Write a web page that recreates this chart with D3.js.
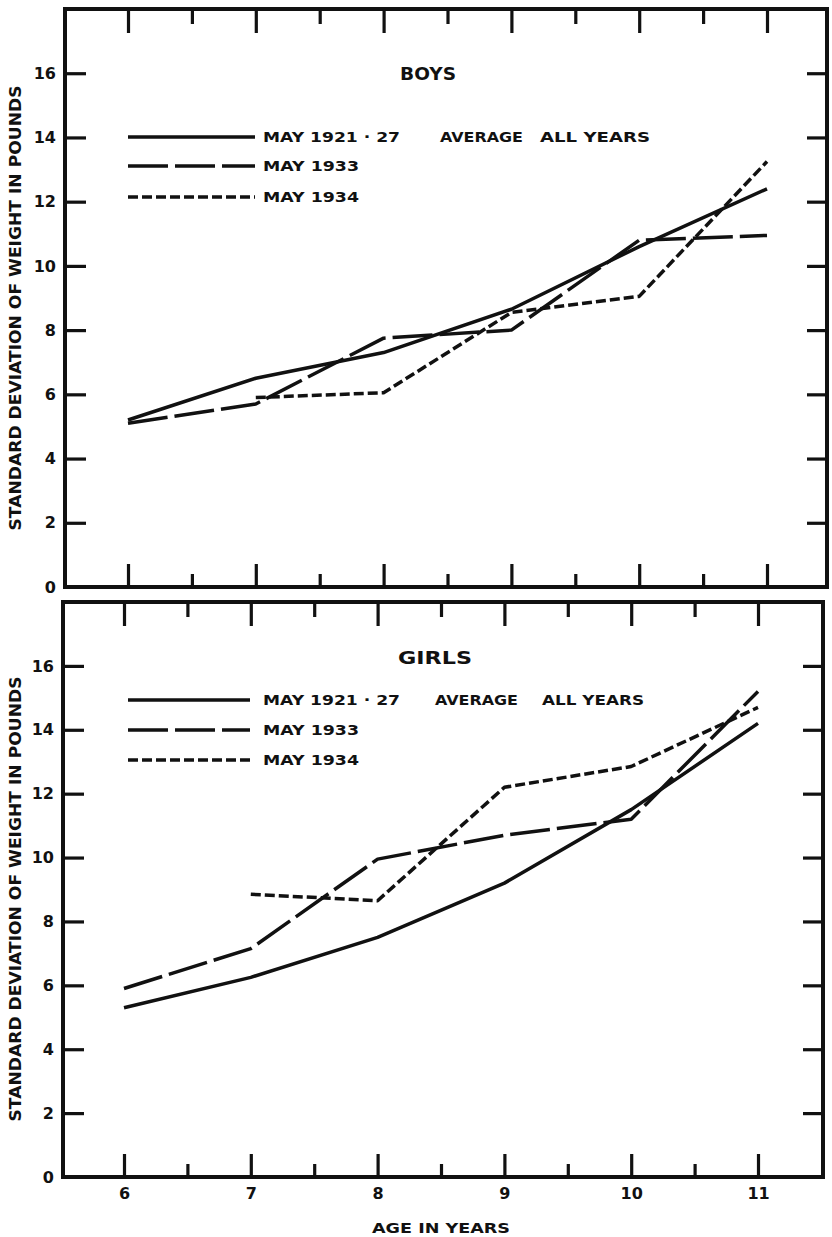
<!DOCTYPE html>
<html>
<head>
<meta charset="utf-8">
<script src="https://cdn.jsdelivr.net/npm/d3@7.9.0/dist/d3.min.js"></script>
<style>
  body { margin: 0; background: #fff; }
  svg text { font-family: "DejaVu Sans", sans-serif; font-weight: bold; fill: #111; }
</style>
</head>
<body>
<svg width="832" height="1237"></svg>
<script>
// data (standard deviation of weight, pounds)
const ages = [6, 7, 8, 9, 10, 11];
const boysAvg  = [5.2, 6.5, 7.3, 8.65, 10.6, 12.4];
const boys1933 = [5.1, 5.7, 7.75, 8.0, 10.8, 10.95];
const boys1934 = [null, 5.9, 6.05, 8.55, 9.05, 13.25];
const girlsAvg  = [5.3, 6.25, 7.5, 9.2, 11.5, 14.2];
const girls1933 = [5.9, 7.15, 9.95, 10.7, 11.2, 15.2];
const girls1934 = [null, 8.85, 8.65, 12.2, 12.85, 14.7];

const yTicks = [0, 2, 4, 6, 8, 10, 12, 14, 16];
const xMajor = [6, 7, 8, 9, 10, 11];
const xMinor = [6.5, 7.5, 8.5, 9.5, 10.5];
const legendNames = ['MAY 1921 · 27', 'MAY 1933', 'MAY 1934'];
const dashes = [null, '40,7', '10,4'];

const svg = d3.select('svg');
const ink = '#111';

function drawPanel(p) {
  const g = svg.append('g');
  const x = d3.scaleLinear().domain([6, 11]).range([p.x6, p.x11]);
  const y = d3.scaleLinear().domain([0, 18]).range([p.y0, p.top]);

  // frame
  g.append('rect')
    .attr('x', p.left).attr('y', y(18))
    .attr('width', p.right - p.left).attr('height', y(0) - y(18))
    .attr('fill', 'none').attr('stroke', ink).attr('stroke-width', 4);

  // left ticks + labels
  const left = g.append('g').attr('transform', `translate(${p.left},0)`)
    .call(d3.axisLeft(y).tickValues(yTicks).tickSize(-21).tickPadding(9));
  // right ticks
  const right = g.append('g').attr('transform', `translate(${p.right},0)`)
    .call(d3.axisRight(y).tickValues(yTicks.slice(1)).tickSize(-20).tickFormat(''));
  // top ticks
  const topMaj = g.append('g').attr('transform', `translate(0,${y(18)})`)
    .call(d3.axisTop(x).tickValues(xMajor).tickSize(-24).tickFormat(''));
  const topMin = g.append('g').attr('transform', `translate(0,${y(18)})`)
    .call(d3.axisTop(x).tickValues(xMinor).tickSize(-15).tickFormat(''));
  // bottom ticks
  const botMaj = g.append('g').attr('transform', `translate(0,${y(0)})`)
    .call(d3.axisBottom(x).tickValues(xMajor).tickSize(-23).tickPadding(11)
      .tickFormat(p.xLabels ? d3.format('d') : ''));
  const botMin = g.append('g').attr('transform', `translate(0,${y(0)})`)
    .call(d3.axisBottom(x).tickValues(xMinor).tickSize(-13).tickFormat(''));

  [left, right, topMaj, topMin, botMaj, botMin].forEach(a => {
    a.select('.domain').remove();
    a.selectAll('line').attr('stroke', ink).attr('stroke-width', 3.2);
    a.selectAll('text').attr('font-size', 16).attr('font-family', null).attr('fill', ink);
  });
  left.selectAll('.tick').filter(d => d === 0).select('line').remove();

  // y axis title
  g.append('text')
    .attr('transform', `translate(21,${p.yTitleMid}) rotate(-90)`)
    .attr('text-anchor', 'middle')
    .attr('font-size', 16)
    .attr('textLength', 445).attr('lengthAdjust', 'spacingAndGlyphs')
    .text('STANDARD DEVIATION OF WEIGHT IN POUNDS');

  // panel title
  g.append('text')
    .attr('x', p.titleX).attr('y', p.titleY)
    .attr('font-size', 18)
    .attr('textLength', p.titleLen).attr('lengthAdjust', 'spacingAndGlyphs')
    .text(p.title);

  // legend
  p.legendY.forEach((ly, i) => {
    g.append('line')
      .attr('x1', 128).attr('x2', p.legendX2).attr('y1', ly).attr('y2', ly)
      .attr('stroke', ink).attr('stroke-width', 3.5)
      .attr('stroke-dasharray', dashes[i]);
    g.append('text')
      .attr('x', 263).attr('y', ly + 5)
      .attr('font-size', 14)
      .attr('textLength', i === 0 ? 137 : 96).attr('lengthAdjust', 'spacingAndGlyphs')
      .text(legendNames[i]);
  });
  g.append('text').attr('x', p.avgX).attr('y', p.legendY[0] + 5)
    .attr('font-size', 14).attr('textLength', 83).attr('lengthAdjust', 'spacingAndGlyphs')
    .text('AVERAGE');
  g.append('text').attr('x', p.allX).attr('y', p.legendY[0] + 5)
    .attr('font-size', 14).attr('textLength', p.allLen).attr('lengthAdjust', 'spacingAndGlyphs')
    .text('ALL YEARS');

  // series
  const line = d3.line()
    .defined(d => d[1] != null)
    .x(d => x(d[0]))
    .y(d => y(d[1]));

  p.series.forEach((vals, i) => {
    g.append('path')
      .datum(ages.map((a, k) => [a, vals[k]]))
      .attr('d', line)
      .attr('fill', 'none')
      .attr('stroke', ink)
      .attr('stroke-width', 3.5)
      .attr('stroke-linejoin', 'round')
      .attr('stroke-dasharray', dashes[i]);
  });
}

drawPanel({
  left: 65, right: 827, x6: 128, x11: 767, y0: 587, top: 9,
  title: 'BOYS', titleX: 400, titleY: 80, titleLen: 56,
  legendY: [137, 166, 197], legendX2: 255,
  avgX: 440, allX: 540, allLen: 110,
  yTitleMid: 308, xLabels: false,
  series: [boysAvg, boys1933, boys1934]
});

drawPanel({
  left: 63, right: 823, x6: 124, x11: 758, y0: 1177, top: 602,
  title: 'GIRLS', titleX: 398, titleY: 664, titleLen: 74,
  legendY: [700, 730, 760], legendX2: 250,
  avgX: 435, allX: 542, allLen: 102,
  yTitleMid: 899, xLabels: true,
  series: [girlsAvg, girls1933, girls1934]
});

svg.append('text')
  .attr('x', 441).attr('y', 1233)
  .attr('text-anchor', 'middle')
  .attr('font-size', 14)
  .attr('textLength', 138).attr('lengthAdjust', 'spacingAndGlyphs')
  .text('AGE IN YEARS');
</script>
</body>
</html>
